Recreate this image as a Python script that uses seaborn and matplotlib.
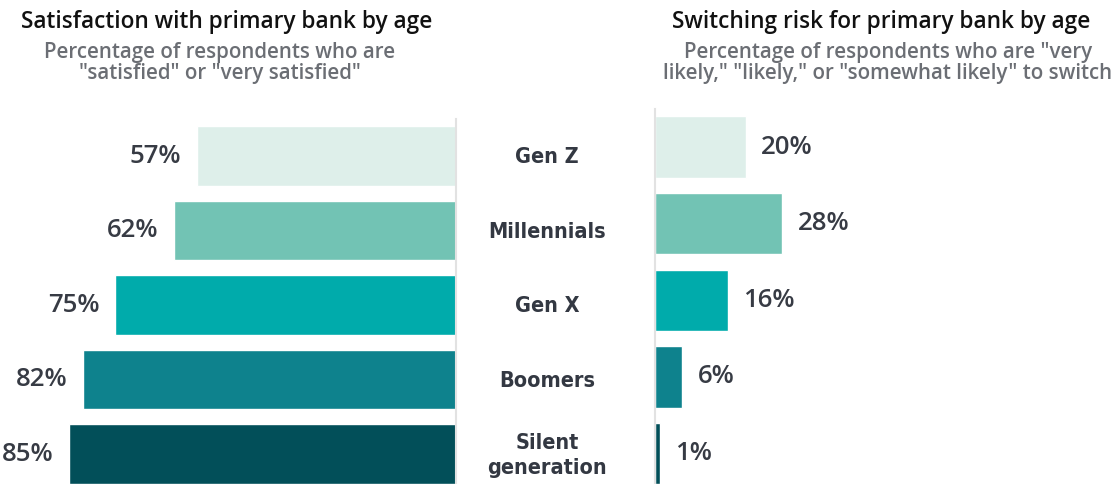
import matplotlib
matplotlib.use("Agg")
import matplotlib.pyplot as plt
import matplotlib.transforms as mtransforms
from matplotlib import font_manager
import seaborn as sns
import pandas as pd

# data
generations = ["Gen Z", "Millennials", "Gen X", "Boomers", "Silent\ngeneration"]
satisfied = [57, 62, 75, 82, 85]
switch_risk = [20, 28, 16, 6, 1]
bar_colors = ["#deefea", "#72c3b4", "#00abab", "#0e828d", "#024f59"]

sns.set_theme(style="white")
plt.rcParams['font.family'] = ['Open Sans', 'DejaVu Sans']

# narrow bold face for the category names, if one is there
names = {f.name for f in font_manager.fontManager.ttflist}
if "Liberation Sans Narrow" in names:
    cat_font = dict(family=["Liberation Sans Narrow"], fontweight="bold")
else:
    cat_font = dict(family=["DejaVu Sans"], fontweight="bold", fontstretch="condensed")

W, H = 1119, 484
fig = plt.figure(figsize=(W / 100, H / 100), dpi=100)

# left panel: bars grow leftwards from x=456px
ax1 = fig.add_axes([1 / W, 1 - 491.25 / H, 455 / W, 372.5 / H])
# right panel: bars grow rightwards from x=655px
ax2 = fig.add_axes([655 / W, 1 - 491.8 / H, 455 / W, 383.1 / H])

df1 = pd.DataFrame({"gen": generations, "pct": satisfied})
df2 = pd.DataFrame({"gen": generations, "pct": switch_risk})

for ax, df in [(ax1, df1), (ax2, df2)]:
    sns.barplot(data=df, x="pct", y="gen", hue="gen", palette=bar_colors,
                orient="h", width=0.8, legend=False, ax=ax, saturation=1)
    ax.set_ylim(4.5, -0.5)
    ax.set_xlabel("")
    ax.set_ylabel("")
    ax.set_xticks([])
    ax.set_yticks([])
    for s in ax.spines.values():
        s.set_visible(False)
    ax.patch.set_alpha(0)

ax1.set_xlim(100, 0)
ax2.set_xlim(0, 100)
ax1.spines["right"].set_visible(True)
ax1.spines["right"].set_color("#e2e2e2")
ax1.spines["right"].set_linewidth(1.5)
ax2.spines["left"].set_visible(True)
ax2.spines["left"].set_color("#e2e2e2")
ax2.spines["left"].set_linewidth(1.5)

val_color = "#373b44"
for ax in (ax1, ax2):
    for cont in ax.containers:
        ax.bar_label(cont, labels=[f"{int(v)}%" for v in cont.datavalues],
                     padding=11, fontsize=18.5, fontweight="semibold",
                     color=val_color)

# category labels in the middle gap
trans = mtransforms.blended_transform_factory(ax1.transAxes, ax1.transData)
for i, g in enumerate(generations):
    ax1.text((547 - 1) / 455, i + 0.02, g, transform=trans, ha="center", va="center",
             fontsize=15.5, color="#333842", linespacing=1.3, **cat_font)

# titles
fig.text(227 / W, 1 - 22 / H, "Satisfaction with primary bank by age",
         ha="center", va="center", fontsize=16.3, fontweight="semibold",
         color="#111111")
fig.text(220 / W, 1 - 63 / H,
         "Percentage of respondents who are\n\"satisfied\" or \"very satisfied\"",
         ha="center", va="center", fontsize=14.8, fontweight="semibold",
         color="#6b6e74", linespacing=0.95)
fig.text(881 / W, 1 - 22 / H, "Switching risk for primary bank by age",
         ha="center", va="center", fontsize=16.3, fontweight="semibold",
         color="#111111")
fig.text(888 / W, 1 - 63 / H,
         "Percentage of respondents who are \"very\nlikely,\" \"likely,\" or \"somewhat likely\" to switch",
         ha="center", va="center", fontsize=14.8, fontweight="semibold",
         color="#6b6e74", linespacing=0.95)

fig.savefig("out.png", dpi=100)
